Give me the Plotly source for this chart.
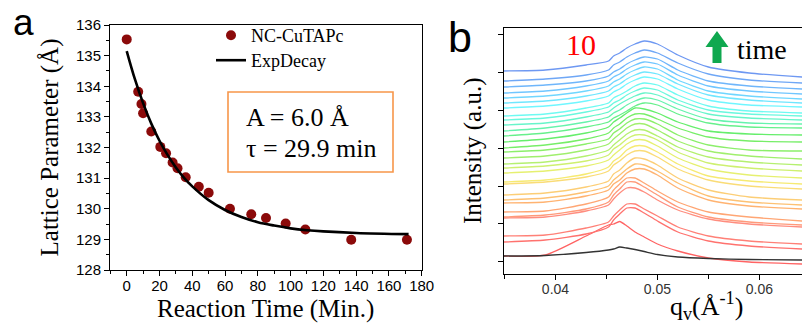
import plotly.graph_objects as go
from plotly.colors import sample_colorscale

# ---------------- data: panel a ----------------
reaction_time = [0, 7, 9, 10, 15, 20.5, 24, 28, 31, 36, 44, 50, 63, 76, 85, 97, 109, 137, 171]
lattice_param = [135.53, 133.82, 133.42, 133.12, 132.52, 132.02, 131.81, 131.51, 131.32, 131.03,
                 130.72, 130.52, 130.0, 129.82, 129.70, 129.52, 129.32, 128.99, 128.99]
fit_time = [0, 5, 10, 15, 20, 25, 30, 35, 40, 50, 60, 70, 80, 90, 100, 110, 120, 140, 172]
fit_value = [135.15, 134.23, 133.45, 132.78, 132.22, 131.75, 131.35, 131.01, 130.73, 130.28,
             129.96, 129.73, 129.56, 129.45, 129.36, 129.30, 129.26, 129.21, 129.17]
x_ticks_a = [0, 20, 40, 60, 80, 100, 120, 140, 160, 180]
y_ticks_a = [128, 129, 130, 131, 132, 133, 134, 135, 136]

# ---------------- data: panel b ----------------
q_values = [0.0349, 0.039, 0.043, 0.0452, 0.0457, 0.0463, 0.047, 0.0478, 0.0487,
            0.050, 0.052, 0.055, 0.059, 0.0642]
reference_scan = [19, 19.5, 22.5, 25, 26, 28, 27, 25.5, 23.5, 20.5, 18, 16.5, 15.5, 15]
# offset scans, first = earliest (bottom, red), last = latest (top, blue)
scans = [
    [19, 20, 39, 50, 51, 53.5, 49, 43, 38, 31, 24, 17, 13, 11],
    [33, 35, 41, 48, 55, 61, 67, 67, 62, 54, 43, 34, 29, 26],
    [39, 40, 47, 53, 59, 65, 71, 71, 66, 59, 48, 39, 34, 31],
    [57, 58, 64, 70, 76, 82, 87, 87, 83, 75, 65, 56, 51, 48],
    [58, 60, 66, 73, 80, 86, 93, 93, 88, 80, 68, 58, 53, 50],
    [63, 64, 71, 78, 85, 91, 97, 97, 92, 84, 73, 63, 58, 54],
    [72, 73, 79, 85, 91, 95, 102, 106, 106, 100, 87, 75, 69, 66],
    [75, 77, 83, 89, 95, 100, 106, 111, 110, 104, 92, 79, 73, 70],
    [80, 82, 88, 94, 101, 105, 112, 117, 116, 110, 97, 85, 78, 75],
    [91, 93, 98, 104, 110, 114, 120, 124, 124, 118, 106, 95, 89, 86],
    [93, 95, 101, 108, 114, 118, 125, 129, 129, 123, 111, 99, 94, 91],
    [102, 104, 109, 115, 120, 125, 131, 135, 135, 129, 117, 106, 100, 97],
    [107, 109, 114, 120, 126, 130, 136, 140, 140, 135, 123, 112, 107, 104],
    [111, 113, 119, 125, 130, 135, 141, 145, 145, 139, 128, 118, 113, 110],
    [117, 119, 125, 131, 136, 141, 147, 151, 151, 145, 134, 124, 119, 116],
    [123, 125, 131, 136, 142, 146, 152, 156, 156, 151, 140, 130, 125, 124],
    [127, 130, 136, 142, 147, 151, 157, 161, 161, 156, 147, 138, 134, 133],
    [133, 136, 142, 148, 153, 157, 162, 167, 166, 162, 153, 144, 141, 140],
    [139, 142, 148, 153, 157, 160, 164, 169, 172, 170, 161, 152, 148, 147],
    [144, 147, 153, 158, 162, 165, 170, 174, 177, 175, 166, 156, 152, 151],
    [150, 152, 158, 163, 167, 171, 175, 179, 182, 180, 171, 161, 157, 155],
    [155, 157, 163, 168, 172, 175, 180, 184, 187, 185, 175, 165, 161, 159],
    [159, 161, 167, 172, 177, 180, 184, 189, 192, 190, 180, 169, 164, 162],
    [167, 169, 174, 179, 183, 186, 191, 195, 198, 196, 186, 175, 170, 168],
    [172, 174, 179, 184, 188, 191, 196, 200, 203, 201, 191, 180, 175, 172],
    [177, 179, 184, 189, 193, 196, 201, 205, 208, 206, 195, 184, 179, 176],
    [182, 184, 189, 194, 198, 201, 206, 210, 213, 211, 200, 189, 184, 181],
    [188, 190, 194, 199, 203, 206, 211, 215, 218, 216, 205, 194, 189, 186],
    [194, 196, 200, 205, 210, 213, 218, 222, 225, 222, 212, 201, 195, 192],
    [204, 205, 210, 214, 219, 222, 227, 231, 234, 231, 220, 208, 202, 198],
]
x_ticks_b = [0.04, 0.05, 0.06]
y_ticks_b = [14, 52, 89, 127, 165, 203, 241]

# ---------------- styling ----------------
W, H = 802, 324
SERIF = "Liberation Serif, Times New Roman, serif"
SANS = "Liberation Sans, Arial, sans-serif"


def px(x):
    return x / W


def py(y):
    return 1 - y / H


rainbow = [[0.0, "#ff6464"], [0.1, "#ff8c80"], [0.2, "#ffb070"], [0.3, "#fbd878"],
           [0.36, "#f4f070"], [0.45, "#b4f070"], [0.58, "#66ee66"], [0.68, "#66f4c4"],
           [0.78, "#70fcff"], [0.9, "#70c4ff"], [1.0, "#6e98f2"]]
n = len(scans)
scan_colors = sample_colorscale(rainbow, [i / (n - 1) for i in range(n)])

fig = go.Figure()

# panel a
fig.add_trace(go.Scatter(x=reaction_time, y=lattice_param, mode="markers", name="NC-CuTAPc",
                         marker=dict(color="#8b0a0a", size=10), xaxis="x", yaxis="y",
                         legend="legend"))
fig.add_trace(go.Scatter(x=fit_time, y=fit_value, mode="lines", name="ExpDecay",
                         line=dict(color="black", width=2.6, shape="spline"), xaxis="x", yaxis="y",
                         legend="legend2"))

# panel b
for s, c in zip(scans, scan_colors):
    fig.add_trace(go.Scatter(x=q_values, y=s, mode="lines", showlegend=False,
                             line=dict(color=c, width=1.3, shape="spline", smoothing=0.6),
                             xaxis="x2", yaxis="y2"))
fig.add_trace(go.Scatter(x=q_values, y=reference_scan, mode="lines", showlegend=False,
                         line=dict(color="#333333", width=1.3, shape="spline", smoothing=0.6),
                         xaxis="x2", yaxis="y2"))

axis_common = dict(showline=True, linecolor="black", linewidth=1, ticks="outside", ticklen=5,
                   tickcolor="black", showgrid=False, zeroline=False, automargin=False)
legend_font = dict(family=SERIF, size=18, color="black")

fig.update_layout(
    width=W, height=H, margin=dict(l=0, r=0, t=0, b=0, autoexpand=False),
    paper_bgcolor="white", plot_bgcolor="white",
    xaxis=dict(domain=[px(110), px(421.7)], range=[-10.2, 180], tickvals=x_ticks_a,
               mirror=True, anchor="y", ticklabelstandoff=-3,
               minor=dict(dtick=10, ticks="outside", ticklen=3, tickcolor="black"),
               tickfont=dict(family=SANS, size=15, color="black"),
               **axis_common),
    yaxis=dict(domain=[py(270), py(25)], range=[128, 136], tickvals=y_ticks_a,
               mirror=True, anchor="x",
               minor=dict(dtick=0.5, ticks="outside", ticklen=3, tickcolor="black"),
               tickfont=dict(family=SANS, size=15, color="black"),
               title=dict(text="Lattice Parameter (Å)", font=dict(family=SERIF, size=25, color="black"),
                          standoff=10),
               **axis_common),
    xaxis2=dict(domain=[px(503.5), 1.0], range=[0.0349, 0.06418], tickvals=x_ticks_b,
                ticktext=["0.04", "0.05", "0.06"], mirror=True, anchor="y2", ticklabelstandoff=-3,
                minor=dict(dtick=0.005, ticks="outside", ticklen=4, tickcolor="black"),
                tickfont=dict(family=SANS, size=14, color="#333333"),
                **axis_common),
    yaxis2=dict(domain=[py(274), py(27.5)], range=[1, 247.5], tickvals=y_ticks_b,
                showticklabels=False, anchor="x2",
                title=dict(text="Intensity (a.u.)", font=dict(family=SERIF, size=25, color="black"),
                           standoff=8),
                **axis_common),
    legend=dict(x=px(211), y=py(17), xanchor="left", yanchor="top", bgcolor="rgba(0,0,0,0)",
                font=legend_font),
    legend2=dict(x=px(211), y=py(42), xanchor="left", yanchor="top", bgcolor="rgba(0,0,0,0)",
                 font=legend_font),
    showlegend=True,
)

annotations = [
    dict(text="a", x=px(23), y=py(23), font=dict(family=SANS, size=37, color="black")),
    dict(text="b", x=px(460), y=py(37), font=dict(family=SANS, size=43, color="black")),
    dict(text="A = 6.0 Å", x=px(244), y=py(117), xanchor="left",
         font=dict(family=SERIF, size=26, color="black")),
    dict(text="τ = 29.9 min", x=px(244), y=py(148), xanchor="left",
         font=dict(family=SERIF, size=26, color="black")),
    dict(text="10", x=px(581), y=py(45), font=dict(family=SERIF, size=30, color="#ff0000")),
    dict(text="time", x=px(735), y=py(49), xanchor="left",
         font=dict(family=SERIF, size=28, color="black")),
    # x-axis titles
    dict(text="Reaction Time (Min.)", x=px(265.5), y=py(309),
         font=dict(family=SERIF, size=25, color="black")),
    dict(text="q<sub>v</sub>(Å<sup>-1</sup>)", x=px(706), y=py(306),
         font=dict(family=SERIF, size=26, color="black")),
]
for a in annotations:
    a.setdefault("xanchor", "center")
    a.update(xref="paper", yref="paper", yanchor="middle", showarrow=False)
fig.update_layout(annotations=annotations)

arrow_pts = [(717, 31), (728.5, 47), (721.5, 47), (721.5, 63), (712.5, 63), (712.5, 47), (705.5, 47)]
arrow_path = "M " + " L ".join(f"{px(x):.5f},{py(y):.5f}" for x, y in arrow_pts) + " Z"
fig.update_layout(shapes=[
    dict(type="rect", xref="paper", yref="paper", x0=px(228), x1=px(393), y0=py(172), y1=py(92),
         line=dict(color="#f7964a", width=1.6)),
    dict(type="path", xref="paper", yref="paper", path=arrow_path,
         fillcolor="#0fa84f", line=dict(width=0)),
])

fig.write_html("out.html", config={"displayModeBar": False},
               post_script="document.body.style.margin='0px';")
